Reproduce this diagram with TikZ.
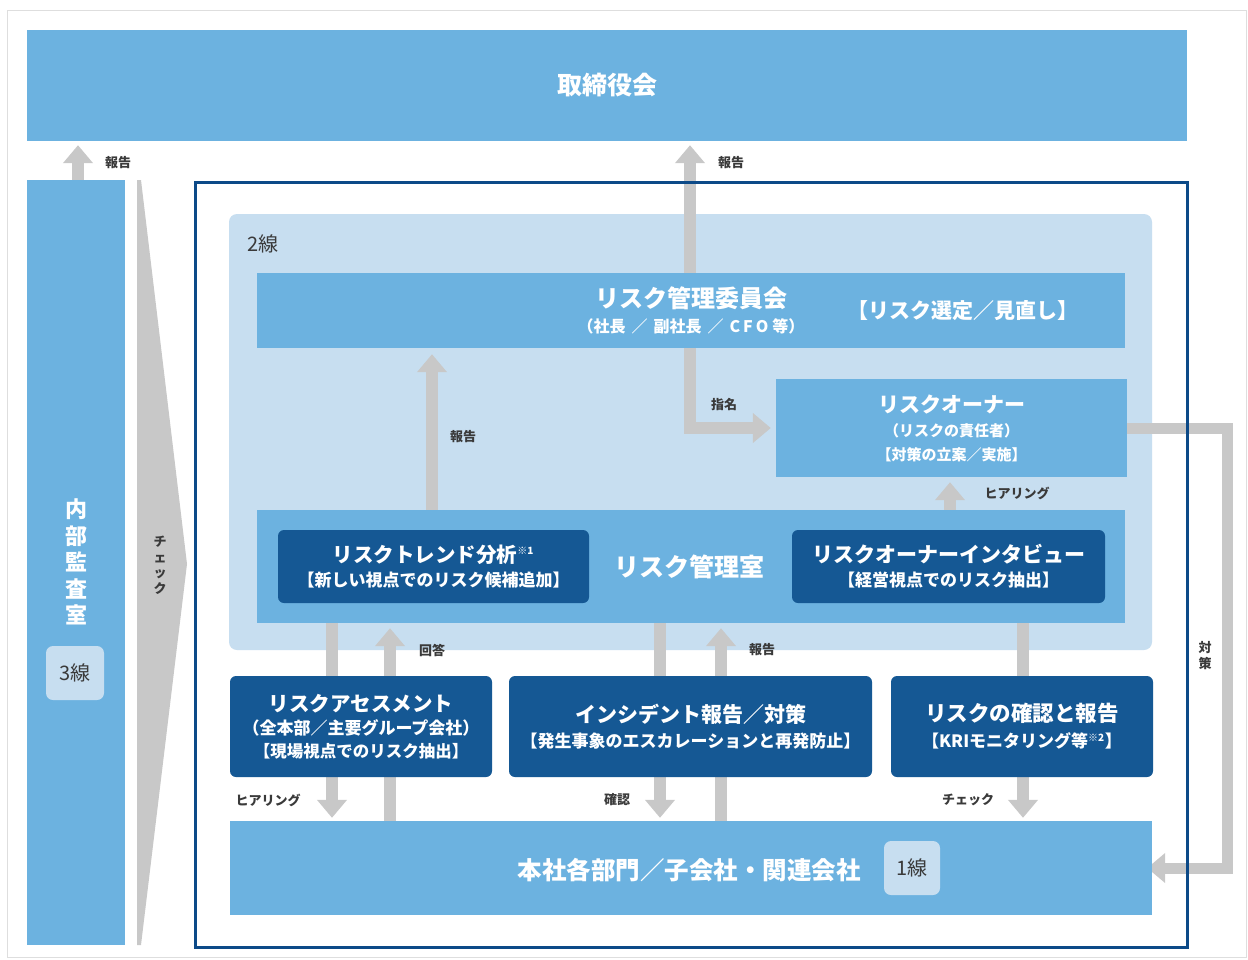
\documentclass[tikz,border=0pt]{standalone}
\usepackage{fontspec}
\setmainfont{Noto Sans CJK JP}
\usetikzlibrary{arrows.meta}
\definecolor{midblue}{RGB}{108,178,224}
\definecolor{lightblue}{RGB}{199,222,240}
\definecolor{darkbox}{RGB}{21,88,148}
\definecolor{framec}{RGB}{12,74,136}
\definecolor{garr}{RGB}{200,200,200}
\definecolor{lbl}{RGB}{58,58,58}
\newcommand{\fs}[2]{\fontsize{#1}{#2}\selectfont}
\begin{document}
\begin{tikzpicture}[x=1pt,y=-1pt,
  blk/.style={fill=midblue,inner sep=0pt,text=white,align=center,font=\bfseries},
  dbox/.style={fill=darkbox,rounded corners=6pt,inner sep=0pt,text=white,align=center,font=\bfseries},
  lvl/.style={fill=lightblue,rounded corners=7pt,inner sep=0pt,text=lbl,font=\fs{20}{24}},
  garrow/.style={draw=garr,line width=12pt,line join=miter,-{Triangle[length=18pt,width=29pt]}},
  tag/.style={text=lbl,font=\bfseries\fs{13}{15},inner sep=0pt}]
\useasboundingbox (0,0) rectangle (1248,959);
\fill[white] (0,0) rectangle (1248,959);
\draw[draw={rgb,255:red,222;green,222;blue,222},line width=1pt] (7,10) rectangle (1246,957);

% x positions of connectors
\coordinate (c78) at (78,0);
\coordinate (c332) at (332,0);
\coordinate (c390) at (390,0);
\coordinate (c432) at (432,0);
\coordinate (c660) at (660,0);
\coordinate (c690) at (690,0);
\coordinate (c721) at (721,0);
\coordinate (c950) at (950,0);
\coordinate (c1023) at (1023,0);
\coordinate (cR) at (1227,868);

% line 2 region
\node[fill=lightblue,rounded corners=8pt,minimum width=923pt,minimum height=436pt,inner sep=0pt] (region) at (690.5,432) {};
\node[anchor=west,text=lbl,font=\fs{20}{24},inner sep=0pt] (l2) at (247,244) {2線};

% main boxes (geometry only, for connectors)
\node[blk,minimum width=1160pt,minimum height=111pt] (board) at (607,85.5) {\fs{25}{29}取締役会};
\node[blk,minimum width=98pt,minimum height=765pt] (audit) at (76,562.5) {};
\node[blk,minimum width=868pt,minimum height=75pt] (committee) at (691,310.5) {};
\node[blk,minimum width=351pt,minimum height=98pt] (owner) at (951.5,428) {};
\node[blk,minimum width=868pt,minimum height=113pt] (office) at (691,566.5) {};
\node[blk,minimum width=922pt,minimum height=94pt] (base) at (691,868) {};

% connectors
\draw[garrow,shorten >=4pt] (audit.north -| c78) -- (board.south -| c78);
\draw[garrow,shorten >=4pt] (committee.north -| c690) -- (board.south -| c690);
\draw[garrow,shorten >=5pt] (committee.south -| c690) |- (owner.west);
\draw[garrow,shorten >=6pt] (office.north -| c432) -- (committee.south -| c432);
\draw[garrow,shorten >=5pt] (office.north -| c950) -- (owner.south -| c950);
\draw[garrow,line width=11pt,shorten >=-5pt] (owner.east) -| (cR) -- (base.east);
\draw[garrow,shorten >=3pt] (office.south -| c332) -- (base.north -| c332);
\draw[garrow,shorten >=5pt] (base.north -| c390) -- (office.south -| c390);
\draw[garrow,shorten >=3pt] (office.south -| c660) -- (base.north -| c660);
\draw[garrow,shorten >=5pt] (base.north -| c721) -- (office.south -| c721);
\draw[garrow,shorten >=3pt] (office.south -| c1023) -- (base.north -| c1023);

% redraw boxes on top of connectors
\node[blk,minimum width=868pt,minimum height=75pt] at (committee) {\fs{24}{28}リスク管理委員会\\[7pt]\fs{16}{18}（社長\hspace{6pt}／\hspace{6pt}副社長\hspace{6pt}／\hspace{6pt}C\hspace{3pt}F\hspace{3pt}O\hspace{4pt}等）};
\node[blk,font=\bfseries\fs{21}{24}] (select) at (963,311) {【リスク選定／見直し】};
\node[blk,minimum width=351pt,minimum height=98pt] at (owner) {\fs{21}{24}リスクオーナー\\[9pt]\fs{15}{18}（リスクの責任者）\\[8pt]\fs{15}{18}【対策の立案／実施】};
\node[blk,minimum width=868pt,minimum height=113pt] at (office) {};
\node[blk,font=\bfseries\fs{25}{29}] (officelbl) at (689,567) {リスク管理室};
\node[blk,minimum width=922pt,minimum height=94pt] at (base) {};
\node[blk,font=\bfseries\fs{24.5}{28}] (baselbl) at (689,870) {本社各部門／子会社・関連会社};

% dark boxes
\node[dbox,minimum width=311pt,minimum height=73pt] (trend) at (433.5,566.5) {\fs{20.5}{24}リスクトレンド分析\textsuperscript{\fs{10}{11}※1}\\[7pt]\fs{17}{19}【新しい視点でのリスク候補追加】};
\node[dbox,minimum width=313pt,minimum height=73pt] (interview) at (948.5,566.5) {\fs{21}{24}リスクオーナーインタビュー\\[7pt]\fs{17}{19}【経営視点でのリスク抽出】};
\node[dbox,minimum width=262pt,minimum height=101pt] (assess) at (361,726.5) {\fs{20.5}{24}リスクアセスメント\\[6pt]\fs{17}{19}（全本部／主要グループ会社）\\[6pt]\fs{16.5}{19}【現場視点でのリスク抽出】};
\node[dbox,minimum width=363pt,minimum height=101pt] (incident) at (690.5,726.5) {\fs{21}{24}インシデント報告／対策\\[8pt]\fs{17}{19}【発生事象のエスカレーションと再発防止】};
\node[dbox,minimum width=262pt,minimum height=101pt] (confirm) at (1022,726.5) {\fs{21.5}{24}リスクの確認と報告\\[8pt]\fs{17}{19}【KRIモニタリング等\textsuperscript{\fs{10}{11}※2}】};

% level tags
\node[lvl,minimum width=56pt,minimum height=54pt] (l1) at (912,868) {1線};
\node[lvl,minimum width=58pt,minimum height=54pt] (l3) at (75,673) {3線};

% internal audit label
\node[text=white,align=center,inner sep=0pt,font=\bfseries\fs{22}{26.5}] (auditlbl) at (76,562) {内\\部\\監\\査\\室};

% check chevron
\fill[garr] (137,180) -- (141,180) -- (187,564) -- (141,945) -- (137,945) -- cycle;
\node[tag,align=center,font=\bfseries\fs{13}{15.5}] (chk) at (160,565) {チ\\ェ\\ッ\\ク};

% frame
\node[draw=framec,line width=3pt,minimum width=992pt,minimum height=765pt,inner sep=0pt] (frame) at (691,564.5) {};

% connector labels
\node[tag] (t1) at (118,163) {報告};
\node[tag] (t2) at (731,163) {報告};
\node[tag] (t3) at (463,437) {報告};
\node[tag] (t4) at (724,405) {指名};
\node[tag] (t5) at (1017,493) {ヒアリング};
\node[tag] (t6) at (432,650) {回答};
\node[tag] (t7) at (762,650) {報告};
\node[tag] (t8) at (268,800) {ヒアリング};
\node[tag] (t9) at (617,800) {確認};
\node[tag] (t10) at (968,800) {チェック};
\node[tag,align=center,font=\bfseries\fs{13}{16}] (t11) at (1205,656) {対\\策};
\end{tikzpicture}
\end{document}
